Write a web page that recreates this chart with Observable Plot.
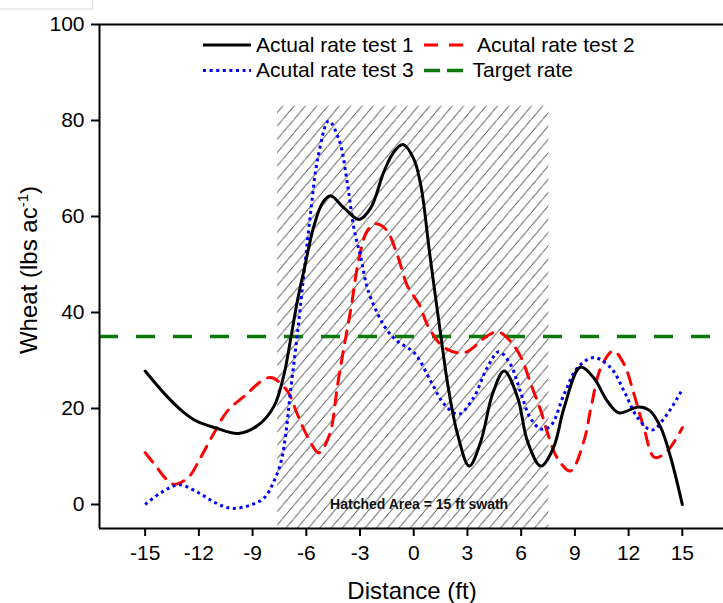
<!DOCTYPE html>
<html>
<head>
<meta charset="utf-8">
<script src="https://cdn.jsdelivr.net/npm/d3@7"></script>
<script src="https://cdn.jsdelivr.net/npm/@observablehq/plot@0.6"></script>
<style>
  html, body { margin: 0; padding: 0; background: white; }
  #chart { position: relative; width: 723px; height: 603px; overflow: hidden; }
  #chart svg [aria-label$="tick"] path, #chart svg [aria-label$="tick"] { stroke-width: 2px; }
  #chart svg .tick line { stroke-width: 2px; }
  #chart svg .domain { display: none; }
</style>
</head>
<body>
<div id="chart"></div>
<script>
// ---- data ----
const xTicks = [-15, -12, -9, -6, -3, 0, 3, 6, 9, 12, 15];
const yTicks = [0, 20, 40, 60, 80, 100];
const xDomain = [-17.55, 17.3];
const yDomain = [-5, 100];

const seriesNames = ["Actual rate test 1", "Acutal rate test 2", "Acutal rate test 3", "Target rate"];

const test1X = [-15, -13.9, -12.85, -12.1, -11.1, -9.8, -8.7, -7.8, -7.25, -6.85, -6.5, -6.1, -5.6, -5.1, -4.65, -3.9, -3.05, -2.4, -1.65, -1.1, -0.6, 0.0, 0.4, 0.9, 1.5, 1.9, 2.45, 3.1, 3.75, 4.4, 5.05, 5.8, 6.35, 7.1, 7.8, 8.4, 9.3, 10.05, 10.8, 11.45, 12.55, 13.2, 13.8, 14.35, 15];
const test1Y = [27.8, 23, 19.2, 17.3, 16, 14.8, 16.5, 20.5, 27, 35, 42.4, 49.3, 57.7, 62.8, 64.3, 61.8, 59.4, 61.8, 69.5, 73.5, 75, 72, 66.4, 52, 35.5, 25, 14.6, 8, 13.2, 23, 27.8, 22.3, 13.2, 8, 11.8, 20.2, 28.6, 26.4, 21.6, 19.1, 20.3, 19.5, 16, 9.8, 0];

const test2X = [-15, -14.4, -13.9, -13.4, -12.6, -11.9, -11.3, -10.4, -9.45, -8.35, -7.9, -7.05, -6.5, -5.9, -5.3, -4.7, -4.25, -3.9, -3.5, -3.05, -2.6, -2.15, -1.55, -0.9, -0.35, 0.3, 0.85, 1.7, 2.8, 4.1, 4.7, 5.4, 6.0, 6.55, 7.1, 7.5, 8.0, 8.75, 9.5, 9.9, 10.45, 11.15, 11.75, 12.3, 12.85, 13.45, 14.15, 15];
const test2Y = [10.8, 8, 5.6, 4.2, 5.6, 9.8, 13.9, 19.5, 22.6, 26.1, 26.4, 23.6, 18.8, 13.9, 10.8, 14.6, 25, 32.7, 41, 51.4, 57, 58.5, 57.3, 51.8, 45.5, 41.7, 36.8, 32.7, 31.6, 35.1, 36, 34, 30.6, 25, 19.5, 14.6, 9.8, 7, 13.2, 20.2, 28.5, 32, 29.2, 23, 16, 9.8, 11.1, 16];

const test3X = [-15, -14.1, -13.1, -12.05, -11.1, -10.2, -9.1, -8.35, -7.8, -7.4, -7.15, -6.9, -6.5, -6.1, -5.75, -5.35, -4.75, -4.15, -3.7, -3.35, -2.95, -2.6, -2.0, -1.45, -0.9, 0.05, 0.95, 1.7, 2.5, 3.35, 4.1, 4.75, 5.4, 5.95, 6.5, 7.1, 7.65, 8.4, 9.15, 10.05, 11.0, 11.75, 12.5, 13.3, 14.15, 15];
const test3Y = [0, 2.5, 4.1, 2.5, 0.4, -0.8, -0.1, 1.4, 4.9, 9.1, 14.6, 23, 35.5, 49.3, 61.1, 72.3, 79.9, 75.7, 66.7, 57.7, 51.4, 45.2, 39.6, 36.1, 34, 31.5, 25.7, 20.9, 18.8, 22.3, 28.5, 31.8, 29.2, 23.6, 18.1, 15.7, 16.4, 23, 28.5, 30.6, 28.5, 23.6, 18.1, 15.5, 18.8, 24];

const targetRate = [35];

// hatched swath annotation
const swathX = [-7.6, 7.55];
const swathTop = [83];
const swathLabel = ["Hatched Area = 15 ft swath"];
const swathLabelPos = [0.3, 0];

// ---- build ----
const toPts = (xs, ys) => xs.map((x, i) => ({x, y: ys[i]}));
const t1 = toPts(test1X, test1Y);
const t2 = toPts(test2X, test2Y);
const t3 = toPts(test3X, test3Y);

const FONT = "'Liberation Sans', Arial, Helvetica, sans-serif";
const DOT = "3,3.6";

const svg = Plot.plot({
  width: 723,
  height: 603,
  marginLeft: 99,
  marginRight: 0,
  marginTop: 24,
  marginBottom: 75,
  style: {fontFamily: FONT, fontSize: "21px", color: "black", background: "white", overflow: "visible"},
  x: {domain: xDomain, ticks: xTicks, tickFormat: d => String(d), tickSize: 8, tickPadding: 9, label: null},
  y: {domain: yDomain, ticks: yTicks, tickFormat: d => String(d), tickSize: 8, tickPadding: 7, label: null},
  marks: [
    Plot.rect([{x1: swathX[0], x2: swathX[1], y1: yDomain[0], y2: swathTop[0]}],
      {x1: "x1", x2: "x2", y1: "y1", y2: "y2", fill: "url(#hatch)"}),
    Plot.text(swathLabel, {x: () => swathLabelPos[0], y: () => swathLabelPos[1], text: d => d,
      fontWeight: "bold", fontSize: 14, fill: "#111", className: "swath-label"}),
    Plot.ruleY(targetRate, {stroke: "#0b7a0b", strokeWidth: 3.5, strokeDasharray: "19,18"}),
    Plot.line(t2, {x: "x", y: "y", curve: "catmull-rom", stroke: "#ff0000", strokeWidth: 3, strokeDasharray: "12,9"}),
    Plot.line(t3, {x: "x", y: "y", curve: "catmull-rom", stroke: "#0000ff", strokeWidth: 3, strokeDasharray: DOT, strokeLinecap: "butt"}),
    Plot.line(t1, {x: "x", y: "y", curve: "catmull-rom", stroke: "#000000", strokeWidth: 3}),
    Plot.ruleX([xDomain[0]], {stroke: "black", strokeWidth: 2}),
    Plot.ruleY([yDomain[0]], {stroke: "black", strokeWidth: 2}),
    Plot.ruleY([yDomain[1]], {stroke: "black", strokeWidth: 2})
  ]
});

document.getElementById("chart").appendChild(svg);

const s = d3.select(svg);
// hatch pattern
const defs = s.insert("defs", ":first-child");
const pw = 11.3, ph = 13.3;
defs.append("pattern")
  .attr("id", "hatch").attr("patternUnits", "userSpaceOnUse")
  .attr("width", pw).attr("height", ph)
  .append("path")
  .attr("d", `M0,${ph} L${pw},0 M${-pw},${ph} L0,0 M${pw},${2 * ph} L${2 * pw},${ph} M${-pw * 0.2},${ph * 1.2} L${pw * 1.2},${-ph * 0.2}`)
  .attr("stroke", "#5a5a5a").attr("stroke-width", 0.85).attr("fill", "none");

// white box behind the swath label
const lbl = svg.querySelector(".swath-label text") || svg.querySelector("g.swath-label text");
if (lbl) {
  const b = lbl.getBBox();
  const g = lbl.parentNode;
  d3.select(g).insert("rect", ":first-child")
    .attr("x", b.x - 3).attr("y", b.y - 1).attr("width", b.width + 6).attr("height", b.height + 2)
    .attr("fill", "white").attr("stroke", "#d8d8d8").attr("stroke-width", 1);
}

// axis titles
s.append("text")
  .attr("x", 412).attr("y", 599).attr("text-anchor", "middle")
  .attr("font-family", FONT).attr("font-size", 24).attr("fill", "black")
  .text("Distance (ft)");
const yt = s.append("text")
  .attr("transform", "translate(37,270) rotate(-90)").attr("text-anchor", "middle")
  .attr("font-family", FONT).attr("font-size", 24).attr("fill", "black");
yt.append("tspan").text("Wheat (lbs ac");
yt.append("tspan").attr("font-size", 15).attr("dy", -9).text("-1");
yt.append("tspan").attr("dy", 9).text(")");

// legend
const lg = s.append("g").attr("font-family", FONT).attr("font-size", 21).attr("fill", "black")
  .attr("text-anchor", "start");
const legendItems = [
  {name: seriesNames[0], x0: 203, x1: 251, y: 45, tx: 256, ty: 51.7, stroke: "#000000", w: 3, dash: null},
  {name: seriesNames[1], x0: 424, x1: 463, y: 45, tx: 477, ty: 51.7, stroke: "#ff0000", w: 3, dash: "14,11"},
  {name: seriesNames[2], x0: 203, x1: 251, y: 70.5, tx: 256, ty: 76.7, stroke: "#0000ff", w: 3, dash: DOT},
  {name: seriesNames[3], x0: 424, x1: 463, y: 70.5, tx: 472.6, ty: 76.7, stroke: "#0b7a0b", w: 3.5, dash: "16,7"}
];
for (const it of legendItems) {
  const ln = lg.append("line").attr("x1", it.x0).attr("x2", it.x1).attr("y1", it.y).attr("y2", it.y)
    .attr("stroke", it.stroke).attr("stroke-width", it.w);
  if (it.dash) ln.attr("stroke-dasharray", it.dash);
  lg.append("text").attr("x", it.tx).attr("y", it.ty).attr("text-anchor", "start").text(it.name);
}
</script>
</body>
</html>
